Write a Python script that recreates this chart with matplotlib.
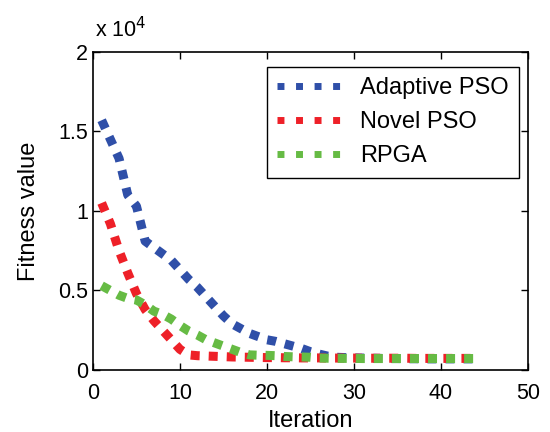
import numpy as np
import matplotlib
matplotlib.use("Agg")
import matplotlib.pyplot as plt
from matplotlib.ticker import FuncFormatter

plt.rcParams['font.family'] = ['Liberation Sans', 'DejaVu Sans']

# data (fitness values)
iteration = np.arange(1, 45)
adaptive_pso = [15700, 14500, 13300, 11000, 10300, 8100, 7700, 7300, 6900, 6300,
                5700, 5200, 4600, 4000, 3400, 2900, 2600, 2300, 2100, 1900,
                1800, 1650, 1500, 1350, 1150, 1000, 870, 800, 780, 760,
                750, 740, 730, 720, 720, 710, 710, 700, 700, 700,
                700, 700, 700, 700]
novel_pso = [10500, 9200, 7500, 6100, 4800, 3800, 3100, 2500, 1900, 1300,
             950, 900, 880, 860, 840, 820, 810, 800, 790, 780,
             780, 770, 770, 760, 760, 760, 750, 750, 750, 750,
             740, 740, 740, 740, 740, 740, 730, 730, 730, 730,
             730, 730, 730, 730]
rpga = [5300, 5000, 4700, 4500, 4400, 4100, 3700, 3500, 3200, 2800,
        2450, 2200, 1900, 1700, 1500, 1300, 1100, 950, 930, 920,
        900, 850, 830, 820, 800, 750, 740, 730, 730, 730,
        720, 720, 720, 720, 720, 720, 720, 720, 720, 720,
        720, 720, 720, 720]

series = [("Adaptive PSO", adaptive_pso, "#2f4fa8"),
          ("Novel PSO", novel_pso, "#ee2028"),
          ("RPGA", rpga, "#66bb44")]

fig = plt.figure(figsize=(5.5, 4.32), dpi=100)
ax = fig.add_axes([0.169, 0.1435, 0.791, 0.7365])

for name, vals, col in series:
    ax.plot(iteration, vals, color=col, lw=6.5, ls=(0, (1, 1)),
            solid_capstyle='butt', dash_capstyle='butt', label=name)

ax.set_xlim(0, 50)
ax.set_ylim(0, 20000)
ax.set_xticks([0, 10, 20, 30, 40, 50])
ax.set_yticks([0, 5000, 10000, 15000, 20000])
ax.yaxis.set_major_formatter(FuncFormatter(lambda v, p: '%g' % (v / 1e4)))
ax.tick_params(direction='in', top=True, right=True, labelsize=15.5, length=5, width=1)
ax.tick_params(axis='x', pad=9)
for s in ax.spines.values():
    s.set_linewidth(1.2)

ax.text(0.005, 1.03, 'x 10$^{4}$', transform=ax.transAxes, fontsize=15.5, ha='left', va='bottom')
ax.set_xlabel('Iteration', fontsize=17, labelpad=5)
ax.set_ylabel('Fitness value', fontsize=17, labelpad=13)

leg = ax.legend(loc='upper right', fontsize=17, fancybox=False, framealpha=1,
                edgecolor='black', handlelength=2.9, handletextpad=0.6,
                borderpad=0.45, labelspacing=0.5, borderaxespad=0,
                bbox_to_anchor=(0.98, 0.953))
leg.get_frame().set_linewidth(1.0)
for h in leg.get_lines():
    h.set_linewidth(5)
    h.set_linestyle((0, (1, 1.67)))

fig.savefig('out.png', dpi=100)
